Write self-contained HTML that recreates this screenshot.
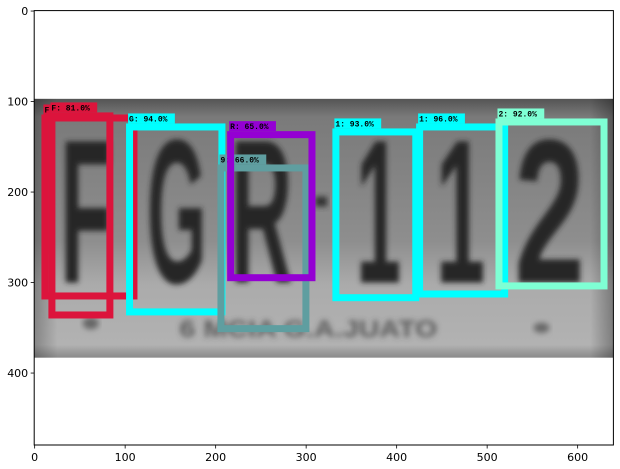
<!DOCTYPE html>
<html><head><meta charset="utf-8"><style>
body{margin:0;background:#fff;}
#wrap{position:relative;width:620px;height:469px;overflow:hidden;background:#fff;}
svg text{font-family:"DejaVu Sans","Liberation Sans",sans-serif;}
</style></head><body>
<div id="wrap">
<svg id="chart" width="620" height="469">
<defs>
<filter id="blur" x="-20%" y="-20%" width="140%" height="140%"><feGaussianBlur stdDeviation="2.6"/></filter>
<filter id="blur2" x="-20%" y="-50%" width="140%" height="200%"><feGaussianBlur stdDeviation="3"/></filter>
<linearGradient id="plateGrad" x1="0" y1="0" x2="0" y2="1">
<stop offset="0" stop-color="#555"/><stop offset="0.07" stop-color="#7a7a7a"/>
<stop offset="0.55" stop-color="#8e8e8e"/><stop offset="0.72" stop-color="#ababab"/>
<stop offset="0.95" stop-color="#b2b2b2"/><stop offset="1" stop-color="#8a8a8a"/>
</linearGradient>
<linearGradient id="plateEdge" x1="0" y1="0" x2="1" y2="0">
<stop offset="0" stop-color="#000" stop-opacity="0.25"/><stop offset="0.04" stop-color="#000" stop-opacity="0"/>
<stop offset="0.96" stop-color="#000" stop-opacity="0"/><stop offset="1" stop-color="#000" stop-opacity="0.3"/>
</linearGradient>
</defs>
<g id="image"></g>
<g id="boxes"></g>
<g id="axes"></g>
</svg>
</div>
<script>
// image extent and tick data (image pixel coordinates)
const imgWidth = 640, imgHeight = 480;
const plateTop = 97, plateBottom = 383;
const xTicks = [0, 100, 200, 300, 400, 500, 600];
const yTicks = [0, 100, 200, 300, 400];
// detections: [x0, y0, x1, y1] in image coordinates
const boxLabels = ["F", "F: 81.0%", "G: 94.0%", "9: 66.0%", "R: 65.0%", "1: 93.0%", "1: 96.0%", "2: 92.0%"];
const boxX0 = [7.5, 15.2, 101, 202, 212.7, 329, 421.5, 509.2];
const boxY0 = [114.3, 112, 124.2, 169.5, 132.7, 129.7, 124.2, 118.7];
const boxX1 = [113.6, 87, 210.8, 303.6, 310.3, 425, 523.2, 633];
const boxY1 = [318.7, 339.7, 336.3, 354.8, 298.5, 320.6, 316.5, 307.6];
const boxColors = ["#DC143C", "#DC143C", "#00FFFF", "#5F9EA0", "#9400D3", "#00FFFF", "#00FFFF", "#7FFFD4"];
// plate characters
const chars = ["F", "G", "R", "1", "1", "2"];
const charX0 = [28, 124, 216, 355, 443, 530];
const charX1 = [86, 190, 285, 405, 498, 608];

const S = 0.905, OX = 34.65, OY = 11.05;
const sx = d => OX + d * S;
const sy = d => OY + d * S;
const NS = "http://www.w3.org/2000/svg";
function mk(tag, attrs, parent){const e=document.createElementNS(NS,tag);for(const k in attrs)e.setAttribute(k,attrs[k]);parent.appendChild(e);return e;}

const img = document.getElementById('image');
let bg = mk('rect',{x:sx(-0.5),y:sy(plateTop),width:imgWidth*S,height:(plateBottom-plateTop)*S,fill:'url(#plateGrad)'},img);


mk('rect',{x:sx(-0.5),y:sy(plateTop),width:imgWidth*S,height:(plateBottom-plateTop)*S,fill:'url(#plateEdge)'},img);
const cg = mk('g',{filter:'url(#blur)'},img);
chars.forEach((c,i)=>{
  const t = mk('text',{x:sx(charX0[i]),y:sy(300),'font-size':205,'font-weight':'bold',fill:'#262626',textLength:(charX1[i]-charX0[i])*S,lengthAdjust:'spacingAndGlyphs'},cg);
  t.setAttribute('style','font-family:"Liberation Sans",sans-serif');
  t.textContent=c;
  
  
});
mk('rect',{x:sx(310),y:sy(205),width:12,height:10,fill:'#333',filter:'url(#blur2)'},img);
const sm = mk('text',{x:sx(160),y:sy(360),'font-size':24,'font-weight':'bold',fill:'#444','fill-opacity':0.8,filter:'url(#blur2)',textLength:(445-160)*S,lengthAdjust:'spacingAndGlyphs'},img);
sm.setAttribute('style','font-family:"Liberation Sans",sans-serif');
sm.textContent='6 MCIA  G.A.JUATO';


mk('ellipse',{cx:sx(62),cy:sy(345),rx:8,ry:6,fill:'#666',filter:'url(#blur2)'},img);
mk('ellipse',{cx:sx(560),cy:sy(350),rx:8,ry:5,fill:'#666',filter:'url(#blur2)'},img);

const bx = document.getElementById('boxes');
const W = 7;
boxLabels.forEach((lab,i)=>{
  const g = mk('g',{},bx);
  
  
  const x0=sx(boxX0[i]),y0=sy(boxY0[i]),x1=sx(boxX1[i]),y1=sy(boxY1[i]);
  mk('rect',{x:x0+W/2,y:y0+W/2,width:x1-x0-W,height:y1-y0-W,fill:'none',stroke:boxColors[i],'stroke-width':W},g);
  const tw = lab.length*5.6+2;
  mk('rect',{x:x0+2,y:y0-10,width:tw,height:10,fill:boxColors[i]},g);
  const t = mk('text',{x:x0+3,y:y0-2,'font-size':8,'font-weight':'bold',fill:'#000'},g);
  t.setAttribute('style','font-family:"Liberation Mono",monospace');
  t.textContent=lab;
  
  
});

const ax = document.getElementById('axes');
const L=sx(-0.5), R=sx(imgWidth-0.5), T=sy(-0.5), B=sy(imgHeight-0.5);
const fr = mk('rect',{x:L,y:T,width:R-L,height:B-T,fill:'none',stroke:'#000','stroke-width':1},ax);


xTicks.forEach(v=>{
  const x=sx(v);
  mk('line',{x1:x,y1:B,x2:x,y2:B+3.5,stroke:'#000','stroke-width':0.8},ax);
  const t=mk('text',{x:x,y:B+16,'font-size':11,'text-anchor':'middle',fill:'#000'},ax);
  t.textContent=v;
  
  
});
yTicks.forEach(v=>{
  const y=sy(v);
  mk('line',{x1:L-3.5,y1:y,x2:L,y2:y,stroke:'#000','stroke-width':0.8},ax);
  const t=mk('text',{x:L-6,y:y+4,'font-size':11,'text-anchor':'end',fill:'#000'},ax);
  t.textContent=v;
  
  
});
</script>
</body></html>
